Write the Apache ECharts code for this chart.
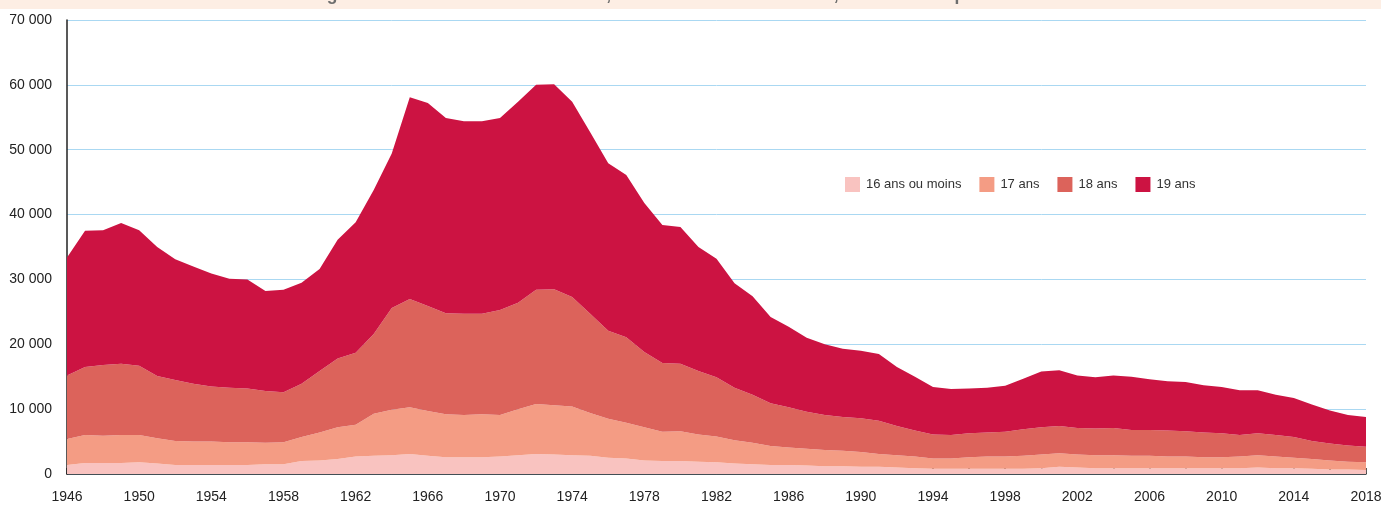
<!DOCTYPE html>
<html>
<head>
<meta charset="utf-8">
<script src="https://cdn.jsdelivr.net/npm/echarts@6/dist/echarts.min.js"></script>
<style>
  html, body { margin: 0; padding: 0; background: #fff; }
  #chart { width: 1400px; height: 507px; }
</style>
</head>
<body>
<div id="chart"></div>
<script>
// années
const years = [];
for (let y = 1946; y <= 2018; y++) years.push(String(y));

// naissances par âge de la mère
const age16 = [
  1400, 1700, 1700, 1700, 1800, 1600, 1400, 1400, 1400, 1400,
  1400, 1500, 1500, 2000, 2100, 2300, 2700, 2800, 2900, 3100,
  2800, 2600, 2600, 2600, 2700, 2900, 3100, 3000, 2900, 2800,
  2500, 2400, 2100, 2000, 2000, 1900, 1800, 1600, 1500, 1400,
  1400, 1300, 1200, 1200, 1100, 1100, 1000, 900, 800, 800,
  800, 800, 800, 800, 900, 1100, 1000, 900, 900, 900,
  900, 900, 900, 900, 900, 900, 1000, 900, 900, 800,
  700, 700, 600
];
const age17 = [
  4000, 4300, 4200, 4300, 4200, 3900, 3700, 3600, 3600, 3500,
  3500, 3300, 3400, 3700, 4300, 4900, 4900, 6500, 7000, 7200,
  6900, 6600, 6500, 6600, 6400, 7100, 7700, 7600, 7500, 6600,
  6000, 5500, 5100, 4500, 4600, 4200, 4000, 3600, 3300, 2900,
  2700, 2600, 2500, 2400, 2300, 2000, 1900, 1800, 1600, 1600,
  1800, 1900, 1900, 2000, 2100, 2100, 2000, 2000, 2000, 1900,
  1900, 1800, 1800, 1700, 1700, 1800, 1900, 1800, 1600, 1500,
  1400, 1200, 1200
];
const age18 = [
  9800, 10500, 10900, 11000, 10700, 9600, 9400, 8900, 8500, 8400,
  8300, 8000, 7700, 8200, 9500, 10600, 11100, 12300, 15700, 16700,
  16200, 15600, 15600, 15500, 16200, 16400, 17600, 17900, 16900, 15300,
  13600, 13200, 11600, 10600, 10400, 9800, 9100, 8100, 7400, 6600,
  6200, 5700, 5400, 5200, 5200, 5100, 4500, 4000, 3700, 3600,
  3700, 3700, 3800, 4100, 4200, 4200, 4100, 4100, 4200, 4000,
  4000, 4000, 3900, 3800, 3700, 3300, 3400, 3300, 3200, 2800,
  2600, 2500, 2400
];
const age19 = [
  18200, 21000, 20800, 21700, 20900, 19900, 18600, 18100, 17400, 16800,
  16800, 15400, 15800, 15600, 15700, 18300, 20100, 22200, 23800, 31100,
  31300, 30100, 29700, 29700, 29600, 31000, 31600, 31600, 30100, 28000,
  25800, 25000, 23000, 21300, 21100, 19100, 18300, 16100, 15200, 13300,
  12400, 11400, 10900, 10500, 10400, 10300, 9100, 8300, 7300, 7100,
  6900, 6900, 7100, 7800, 8600, 8600, 8100, 7900, 8100, 8200,
  7800, 7600, 7600, 7300, 7100, 6900, 6600, 6200, 6000, 5600,
  5100, 4700, 4600
];

const seriesNames = ['16 ans ou moins', '17 ans', '18 ans', '19 ans'];
const colors = ['#f9c3c0', '#f49c84', '#dc635b', '#cc1342'];
const seriesData = [age16, age17, age18, age19];

const font = '"Liberation Sans Narrow", "Liberation Sans", Arial, sans-serif';

const chart = echarts.init(document.getElementById('chart'), null, { renderer: 'canvas' });

chart.setOption({
  animation: false,
  color: colors,
  graphic: [
    {
      type: 'rect',
      shape: { x: 0, y: 0, width: 1381, height: 9 },
      style: { fill: '#fdeee4' },
      z: 0
    },
    {
      type: 'text',
      x: 62,
      y: 4,
      style: {
        text: "Nombre de naissances selon l'âge de la mère atteint dans l'année, mères de moins de 20 ans, France métropolitaine",
        font: 'bold 17.5px ' + font,
        fill: '#6e6e6e',
        verticalAlign: 'bottom'
      },
      z: 1
    }
  ],
  legend: {
    left: 840,
    top: 172,
    itemWidth: 15,
    itemHeight: 15,
    itemGap: 18,
    icon: 'rect',
    textStyle: { fontFamily: font, fontSize: 13, color: '#333', padding: [0, 0, 0, 1] },
    data: seriesNames
  },
  grid: { left: 67, right: 34, top: 20, bottom: 33 },
  xAxis: {
    type: 'category',
    data: years,
    boundaryGap: false,
    axisLine: { lineStyle: { color: '#222', width: 1.5 } },
    axisTick: { show: true, inside: true, length: 6, interval: 1, lineStyle: { color: '#222', width: 1.5 } },
    axisLabel: { interval: 3, margin: 16, fontFamily: font, fontSize: 14, color: '#222' },
    splitLine: { show: false }
  },
  yAxis: {
    type: 'value',
    min: 0,
    max: 70000,
    interval: 10000,
    axisLine: { show: true, lineStyle: { color: '#222', width: 1.5 } },
    axisTick: { show: false },
    axisLabel: {
      margin: 15,
      fontFamily: font,
      fontSize: 14,
      color: '#222',
      formatter: v => String(v).replace(/\B(?=(\d{3})+(?!\d))/g, ' ')
    },
    splitLine: { lineStyle: { color: '#aad8f2', width: 1 } }
  },
  series: seriesNames.map((name, i) => ({
    name: name,
    type: 'line',
    stack: 'total',
    data: seriesData[i],
    symbol: 'none',
    lineStyle: { width: 0 },
    areaStyle: { color: colors[i], opacity: 1 },
    emphasis: { disabled: true }
  }))
});
</script>
</body>
</html>
